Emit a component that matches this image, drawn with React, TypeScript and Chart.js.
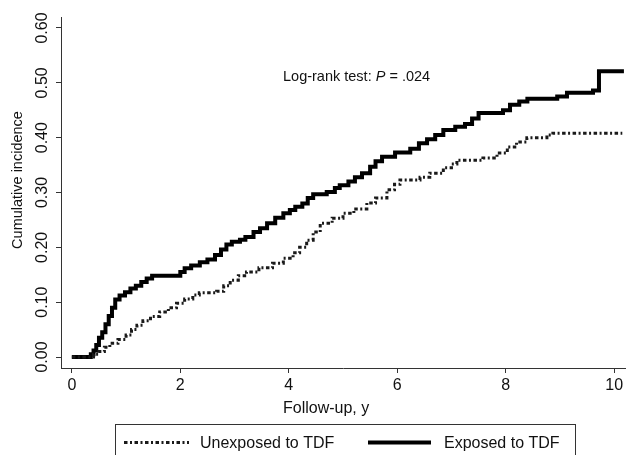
import React, { useEffect, useRef } from "react";
import { Chart, registerables } from "chart.js";

Chart.register(...registerables);

// Follow-up time (years) at which each cumulative-incidence step occurs
const exposedTime = [0, 0.35, 0.4, 0.45, 0.5, 0.56, 0.62, 0.68, 0.74, 0.8, 0.88, 0.98, 1.08, 1.18, 1.28, 1.38, 1.48, 2.0, 2.08, 2.2, 2.36, 2.5, 2.64, 2.75, 2.85, 2.95, 3.1, 3.2, 3.35, 3.47, 3.6, 3.75, 3.9, 4.02, 4.12, 4.25, 4.35, 4.45, 4.7, 4.85, 4.94, 5.1, 5.22, 5.35, 5.5, 5.6, 5.72, 5.96, 6.24, 6.4, 6.55, 6.7, 6.85, 7.07, 7.25, 7.38, 7.5, 7.95, 8.08, 8.25, 8.4, 8.95, 9.13, 9.61, 9.72, 10.18];
const exposedValue = [0, 0.005, 0.012, 0.022, 0.035, 0.045, 0.06, 0.075, 0.09, 0.105, 0.112, 0.118, 0.125, 0.13, 0.137, 0.143, 0.148, 0.155, 0.162, 0.167, 0.173, 0.178, 0.186, 0.196, 0.205, 0.21, 0.214, 0.219, 0.228, 0.235, 0.244, 0.254, 0.262, 0.268, 0.274, 0.28, 0.29, 0.297, 0.301, 0.308, 0.313, 0.32, 0.328, 0.335, 0.347, 0.357, 0.365, 0.373, 0.38, 0.39, 0.397, 0.405, 0.414, 0.42, 0.425, 0.435, 0.445, 0.45, 0.46, 0.466, 0.471, 0.475, 0.482, 0.486, 0.521, 0.521];

const unexposedTime = [0, 0.4, 0.5, 0.6, 0.7, 0.85, 1.0, 1.1, 1.2, 1.31, 1.45, 1.62, 1.78, 1.93, 2.08, 2.23, 2.35, 2.67, 2.8, 2.92, 3.07, 3.22, 3.45, 3.7, 3.9, 4.08, 4.2, 4.33, 4.45, 4.58, 4.8, 5.0, 5.2, 5.44, 5.6, 5.81, 5.95, 6.05, 6.42, 6.6, 6.85, 7.0, 7.1, 7.58, 7.84, 8.03, 8.2, 8.39, 8.76, 8.87, 10.15];
const unexposedValue = [0, 0.005, 0.01, 0.018, 0.025, 0.032, 0.04, 0.05, 0.058, 0.066, 0.074, 0.082, 0.09, 0.098, 0.106, 0.113, 0.117, 0.12, 0.13, 0.14, 0.148, 0.155, 0.163, 0.171, 0.18, 0.19, 0.2, 0.213, 0.228, 0.244, 0.253, 0.262, 0.27, 0.281, 0.29, 0.305, 0.315, 0.323, 0.328, 0.335, 0.345, 0.352, 0.359, 0.363, 0.372, 0.383, 0.392, 0.4, 0.405, 0.408, 0.408];

const xTicks = [0, 2, 4, 6, 8, 10];
const yTicks = [0, 0.1, 0.2, 0.3, 0.4, 0.5, 0.6];

const seriesLabels = ["Unexposed to TDF", "Exposed to TDF"];
const xTitle = "Follow-up, y";
const yTitle = "Cumulative incidence";
const annotationParts = ["Log-rank test: ", "P", " = .024"];

const FONT = "'Liberation Sans', Arial, Helvetica, sans-serif";
const INK = "#111111";

const overlayPlugin = {
  id: "overlay",
  afterDraw(chart: any) {
    const ctx = chart.ctx;
    ctx.save();
    ctx.fillStyle = INK;

    // Y axis title
    ctx.save();
    ctx.translate(18, 180);
    ctx.rotate(-Math.PI / 2);
    ctx.font = `14.5px ${FONT}`;
    ctx.textAlign = "center";
    ctx.textBaseline = "middle";
    ctx.fillText(yTitle, 0, 0);
    ctx.restore();

    // X axis title
    ctx.font = `16px ${FONT}`;
    ctx.textAlign = "left";
    ctx.textBaseline = "alphabetic";
    ctx.fillText(xTitle, 283, 413);

    // Annotation
    let ax = 283;
    const ay = 81;
    annotationParts.forEach((p, i) => {
      ctx.font = (i === 1 ? "italic " : "") + `14.5px ${FONT}`;
      ctx.fillText(p, ax, ay);
      ax += ctx.measureText(p).width;
    });

    // Legend box
    ctx.strokeStyle = "#333333";
    ctx.lineWidth = 1;
    ctx.strokeRect(115.5, 424.5, 460, 40);

    const ds = chart.data.datasets;
    const items = [
      { ds: ds[0], x1: 124, x2: 189, tx: 200 },
      { ds: ds[1], x1: 368, x2: 431, tx: 444 },
    ];
    items.forEach((it) => {
      ctx.save();
      ctx.strokeStyle = it.ds.borderColor;
      ctx.lineWidth = it.ds.borderWidth;
      ctx.setLineDash(it.ds.borderDash || []);
      ctx.lineCap = "butt";
      ctx.beginPath();
      ctx.moveTo(it.x1, 442.5);
      ctx.lineTo(it.x2, 442.5);
      ctx.stroke();
      ctx.restore();
      ctx.font = `16px ${FONT}`;
      ctx.fillStyle = INK;
      ctx.fillText(it.ds.label, it.tx, 448);
    });

    ctx.restore();
  },
};

export default function App() {
  const canvasRef = useRef<HTMLCanvasElement | null>(null);

  useEffect(() => {
    const canvas = canvasRef.current;
    if (!canvas) return;
    const chart = new Chart(canvas, {
      type: "line",
      data: {
        datasets: [
          {
            label: seriesLabels[0],
            data: unexposedTime.map((t, i) => ({ x: t, y: unexposedValue[i] })),
            borderColor: "#1a1a1a",
            borderWidth: 3,
            borderDash: [3.5, 2.5, 2, 2.5],
            stepped: "before",
            pointRadius: 0,
            fill: false,
            borderJoinStyle: "miter",
          },
          {
            label: seriesLabels[1],
            data: exposedTime.map((t, i) => ({ x: t, y: exposedValue[i] })),
            borderColor: "#000000",
            borderWidth: 4,
            stepped: "before",
            pointRadius: 0,
            fill: false,
            borderJoinStyle: "miter",
          },
        ],
      },
      options: {
        animation: false,
        responsive: false,
        maintainAspectRatio: false,
        layout: { padding: { left: 0, top: 17, right: 4, bottom: 0 } },
        plugins: { legend: { display: false }, tooltip: { enabled: false } },
        scales: {
          x: {
            type: "linear",
            position: "bottom",
            min: -0.2,
            max: 10.2,
            afterBuildTicks: (s: any) => {
              s.ticks = xTicks.map((v) => ({ value: v }));
            },
            afterFit: (s: any) => {
              s.height = 87;
            },
            ticks: {
              autoSkip: false,
              maxRotation: 0,
              padding: 3,
              color: INK,
              font: { family: FONT, size: 16 },
              callback: (v: any) => String(v),
            },
            grid: { display: true, drawOnChartArea: false, drawTicks: true, tickLength: 5, color: "#333333", lineWidth: 1 },
            border: { display: true, color: "#333333", width: 1 },
          },
          y: {
            type: "linear",
            position: "left",
            min: -0.02,
            max: 0.62,
            afterBuildTicks: (s: any) => {
              s.ticks = yTicks.map((v) => ({ value: v }));
            },
            afterFit: (s: any) => {
              s.width = 61;
            },
            ticks: {
              minRotation: 90,
              maxRotation: 90,
              crossAlign: "center",
              padding: -2,
              color: INK,
              font: { family: FONT, size: 16 },
              callback: (v: any) => Number(v).toFixed(2),
            },
            grid: { display: true, drawOnChartArea: false, drawTicks: true, tickLength: 5, color: "#333333", lineWidth: 1 },
            border: { display: true, color: "#333333", width: 1 },
          },
        },
      },
      plugins: [overlayPlugin],
    } as any);
    return () => chart.destroy();
  }, []);

  return (
    <div style={{ position: "fixed", left: 0, top: 0, width: 629, height: 455, background: "#ffffff" }}>
      <canvas ref={canvasRef} width={629} height={455} style={{ display: "block", width: 629, height: 455 }} />
    </div>
  );
}
